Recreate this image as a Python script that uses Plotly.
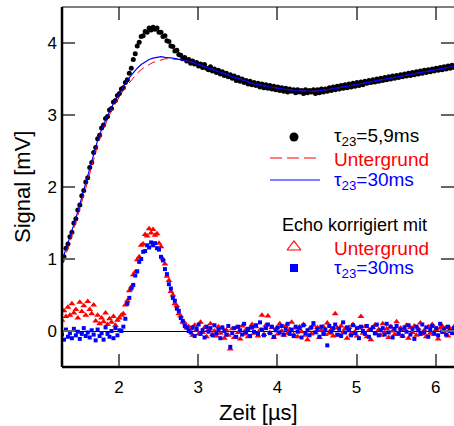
import numpy as np
import plotly.graph_objects as go

# ---------------- data ----------------
T0 = 1.28          # first sample time [µs]
DT_FINE = 0.025    # sampling of the dotted series [µs]
DT_LINE = 0.05     # sampling of the background curves [µs]

signal_59 = [
    0.98, 1.03, 1.15, 1.21, 1.31, 1.37, 1.50, 1.56, 1.68, 1.75,
    1.88, 1.95, 2.07, 2.13, 2.27, 2.34, 2.48, 2.55, 2.67, 2.72,
    2.82, 2.86, 2.95, 2.98, 3.07, 3.09, 3.18, 3.20, 3.27, 3.30,
    3.36, 3.38, 3.45, 3.49, 3.58, 3.65, 3.77, 3.85, 3.96, 4.01,
    4.09, 4.10, 4.16, 4.15, 4.21, 4.18, 4.22, 4.19, 4.21, 4.15,
    4.15, 4.09, 4.10, 4.03, 4.02, 3.96, 3.95, 3.89, 3.90, 3.84,
    3.83, 3.78, 3.80, 3.75, 3.77, 3.72, 3.75, 3.71, 3.73, 3.68,
    3.71, 3.66, 3.70, 3.65, 3.63, 3.67, 3.61, 3.64, 3.59, 3.62,
    3.57, 3.60, 3.55, 3.58, 3.53, 3.56, 3.51, 3.54, 3.48, 3.52,
    3.47, 3.50, 3.45, 3.48, 3.43, 3.47, 3.42, 3.45, 3.41, 3.44,
    3.39, 3.43, 3.38, 3.42, 3.37, 3.41, 3.36, 3.40, 3.35, 3.39,
    3.34, 3.38, 3.33, 3.37, 3.32, 3.36, 3.33, 3.35, 3.31, 3.35,
    3.32, 3.34, 3.30, 3.35, 3.31, 3.34, 3.32, 3.35, 3.30, 3.35,
    3.31, 3.36, 3.32, 3.36, 3.33, 3.38, 3.34, 3.39, 3.35, 3.40,
    3.36, 3.41, 3.37, 3.42, 3.38, 3.43, 3.39, 3.44, 3.40, 3.45,
    3.41, 3.46, 3.42, 3.47, 3.44, 3.48, 3.45, 3.49, 3.46, 3.50,
    3.47, 3.51, 3.48, 3.52, 3.49, 3.53, 3.50, 3.54, 3.51, 3.55,
    3.52, 3.56, 3.53, 3.57, 3.54, 3.58, 3.55, 3.59, 3.56, 3.60,
    3.57, 3.61, 3.58, 3.62, 3.59, 3.63, 3.60, 3.64, 3.61, 3.65,
    3.62, 3.66, 3.63, 3.67, 3.64, 3.68, 3.65, 3.69, 3.66,
]

background_30ms = [
    0.97, 1.13, 1.30, 1.48, 1.66, 1.86, 2.05, 2.25, 2.46, 2.65,
    2.80, 2.93, 3.05, 3.16, 3.26, 3.35, 3.44, 3.52, 3.59, 3.65,
    3.70, 3.74, 3.77, 3.79, 3.80, 3.81, 3.80, 3.80, 3.79, 3.78,
    3.77, 3.76, 3.75, 3.73, 3.71, 3.69, 3.67, 3.65, 3.63, 3.61,
    3.59, 3.57, 3.55, 3.53, 3.51, 3.49, 3.47, 3.455, 3.44, 3.43,
    3.415, 3.405, 3.395, 3.385, 3.375, 3.365, 3.355, 3.35, 3.345, 3.34,
    3.335, 3.33, 3.33, 3.33, 3.33, 3.335, 3.34, 3.35, 3.36, 3.37,
    3.38, 3.39, 3.40, 3.41, 3.42, 3.43, 3.445, 3.455, 3.465, 3.475,
    3.485, 3.495, 3.505, 3.515, 3.525, 3.535, 3.545, 3.555, 3.565, 3.575,
    3.585, 3.595, 3.605, 3.615, 3.625, 3.635, 3.645, 3.655, 3.665, 3.675,
]

background_untergrund = [
    0.92, 1.06, 1.23, 1.41, 1.59, 1.79, 1.98, 2.18, 2.39, 2.58,
    2.74, 2.88, 3.00, 3.11, 3.21, 3.30, 3.38, 3.45, 3.52, 3.58,
    3.63, 3.67, 3.70, 3.73, 3.75, 3.77, 3.78, 3.78, 3.78, 3.775,
    3.77, 3.76, 3.75, 3.73, 3.71, 3.69, 3.67, 3.65, 3.63, 3.61,
    3.59, 3.57, 3.55, 3.53, 3.51, 3.49, 3.47, 3.455, 3.44, 3.43,
    3.415, 3.405, 3.395, 3.385, 3.375, 3.365, 3.355, 3.35, 3.345, 3.34,
    3.335, 3.33, 3.33, 3.33, 3.33, 3.335, 3.34, 3.35, 3.36, 3.37,
    3.38, 3.39, 3.40, 3.41, 3.42, 3.43, 3.445, 3.455, 3.465, 3.475,
    3.485, 3.495, 3.505, 3.515, 3.525, 3.535, 3.545, 3.555, 3.565, 3.575,
    3.585, 3.595, 3.605, 3.615, 3.625, 3.635, 3.645, 3.655, 3.665, 3.675,
]

echo_untergrund = [
    0.15, 0.28, 0.20, 0.33, 0.22, 0.38, 0.25, 0.30, 0.18, 0.40,
    0.27, 0.35, 0.22, 0.41, 0.30, 0.24, 0.36, 0.14, 0.22, 0.10,
    0.18, 0.13, 0.25, 0.09, 0.17, 0.12, 0.20, 0.08, 0.15, 0.18,
    0.22, 0.24, 0.36, 0.42, 0.56, 0.61, 0.78, 0.82, 0.99, 1.03,
    1.19, 1.21, 1.34, 1.32, 1.42, 1.36, 1.41, 1.33, 1.35, 1.22,
    1.17, 1.00, 0.93, 0.76, 0.70, 0.55, 0.50, 0.38, 0.35, 0.24,
    0.21, 0.12, 0.11, 0.04, 0.06,
    0.03, -0.06, 0.08, 0.01, -0.04, 0.12, -0.02, 0.05, -0.08, 0.02,
    0.10, -0.05, 0.00, -0.07, 0.06, -0.03, 0.04, -0.10, 0.01, -0.06,
    -0.25, 0.03, -0.09, 0.05, -0.02, -0.11, 0.07, -0.04, 0.02, -0.08,
    0.04, 0.09, -0.03, 0.06, -0.07, 0.01, 0.22, -0.05, 0.08, 0.21,
    -0.02, 0.05, -0.09, 0.03, -0.04, 0.10, 0.00, -0.06, 0.07, -0.03,
    0.02, 0.12, -0.05, 0.04, -0.08, 0.06, -0.01, 0.09, -0.06, -0.12,
    0.03, -0.04, 0.08, -0.02, 0.05, -0.09, 0.01, 0.06, -0.05, 0.11,
    -0.03, 0.02, -0.07, 0.24, 0.04, -0.06, 0.07, -0.02, 0.03, -0.10,
    0.05, -0.04, 0.09, -0.01, -0.07, 0.04, 0.20, -0.03, 0.06, -0.08,
    0.01, -0.12, 0.05, 0.08, -0.04, 0.02, -0.06, 0.10, -0.02, 0.03,
    -0.09, 0.06, 0.00, -0.05, 0.13, -0.03, 0.04, -0.07, 0.02, 0.08,
    -0.10, 0.05, -0.02, 0.07, -0.06, 0.03, 0.11, -0.04, 0.01, -0.08,
    0.06, -0.03, 0.09, -0.05, 0.02, -0.11, 0.04, 0.07, -0.02, 0.05,
    -0.07, 0.03, 0.00, 0.06,
]

echo_30ms = [
    -0.05, -0.12, 0.02, -0.08, -0.03, -0.10, 0.03, -0.06, -0.01, -0.11,
    -0.04, 0.04, -0.07, -0.02, -0.09, 0.01, -0.05, -0.13, 0.02, -0.07,
    -0.03, -0.12, 0.05, -0.04, -0.08, 0.00, -0.10, 0.04, -0.06, 0.01,
    0.00, 0.06, 0.17, 0.38, 0.46, 0.59, 0.64, 0.77, 0.83, 0.96,
    1.00, 1.10, 1.11, 1.19, 1.16, 1.23, 1.19, 1.22, 1.15, 1.13,
    1.03, 0.98, 0.86, 0.79, 0.65, 0.59, 0.46, 0.42, 0.31, 0.28,
    0.18, 0.14, 0.07, 0.05, 0.00,
    -0.02, 0.05, -0.07, 0.03, 0.09, -0.04, 0.01, -0.09, 0.06, -0.01,
    0.04, -0.06, 0.08, -0.03, 0.02, -0.10, 0.05, 0.00, -0.05, 0.07,
    -0.22, -0.03, 0.04, -0.08, 0.06, 0.01, -0.05, 0.10, -0.02, 0.03,
    -0.07, 0.05, -0.01, 0.08, -0.04, 0.12, 0.02, -0.06, 0.04, 0.09,
    -0.03, 0.06, -0.08, 0.01, 0.05, -0.02, 0.07, -0.05, 0.03, 0.10,
    -0.04, 0.02, -0.07, 0.06, -0.01, 0.04, -0.09, 0.08, -0.03, 0.01,
    -0.06, 0.05, 0.11, -0.02, 0.03, -0.08, 0.06, -0.04, 0.02, -0.20,
    0.07, -0.01, 0.04, 0.09, -0.05, 0.03, -0.07, 0.12, -0.02, 0.05,
    0.01, -0.06, 0.08, -0.03, 0.04, -0.10, 0.06, 0.00, -0.04, 0.07,
    -0.08, 0.02, 0.05, -0.03, 0.09, -0.06, 0.01, 0.04, -0.05, 0.10,
    -0.02, 0.06, -0.09, 0.03, 0.07, -0.04, 0.02, -0.07, 0.05, -0.01,
    0.08, -0.05, 0.03, -0.11, 0.06, 0.01, -0.04, 0.09, -0.02, 0.05,
    -0.08, 0.02, 0.07, -0.03, 0.04, -0.06, 0.10, -0.01, 0.03, -0.05,
    0.06, 0.00, -0.03, 0.04,
]

x_ticks = [2, 3, 4, 5, 6]
y_ticks = [0, 1, 2, 3, 4]
x_range = [1.28, 6.23]
y_range = [-0.5, 4.5]

legend_labels = ["τ<sub>23</sub>=5,9ms", "Untergrund", "τ<sub>23</sub>=30ms",
                 "Echo korrigiert mit", "Untergrund", "τ<sub>23</sub>=30ms"]


def grid(values, step):
    return np.round(T0 + step * np.arange(len(values)), 4)


FONT = "Liberation Sans, Arial, sans-serif"
RED = "#ff0000"
BLUE = "#0000ff"

fig = go.Figure()

# measured signal (black dots)
fig.add_trace(go.Scatter(x=grid(signal_59, DT_FINE), y=signal_59, mode="markers",
                         marker=dict(symbol="circle", size=5, color="black"),
                         showlegend=False))
# background curves
fig.add_trace(go.Scatter(x=grid(background_untergrund, DT_LINE), y=background_untergrund,
                         mode="lines", line=dict(color=RED, width=1, dash="8px,5px"),
                         showlegend=False))
fig.add_trace(go.Scatter(x=grid(background_30ms, DT_LINE), y=background_30ms,
                         mode="lines", line=dict(color=BLUE, width=1.2),
                         showlegend=False))
# corrected echoes
fig.add_trace(go.Scatter(x=grid(echo_untergrund, DT_FINE), y=echo_untergrund, mode="markers",
                         marker=dict(symbol="triangle-up", size=6, color=RED),
                         showlegend=False))
fig.add_trace(go.Scatter(x=grid(echo_30ms, DT_FINE), y=echo_30ms, mode="markers",
                         marker=dict(symbol="square", size=4, color=BLUE),
                         showlegend=False))

# ---- hand-made legend on an overlay axis measured in pixels ----
PX_L, PX_R, PX_T, PX_B = 62, 454, 7, 367
fig.add_trace(go.Scatter(x=[294], y=[137], mode="markers", xaxis="x2", yaxis="y2",
                         marker=dict(symbol="circle", size=9, color="black"),
                         showlegend=False, hoverinfo="skip"))
fig.add_trace(go.Scatter(x=[270, 320], y=[158, 158], mode="lines", xaxis="x2", yaxis="y2",
                         line=dict(color=RED, width=1, dash="12px,5px"),
                         showlegend=False, hoverinfo="skip"))
fig.add_trace(go.Scatter(x=[270, 320], y=[180, 180], mode="lines", xaxis="x2", yaxis="y2",
                         line=dict(color=BLUE, width=1),
                         showlegend=False, hoverinfo="skip"))
fig.add_trace(go.Scatter(x=[294], y=[247], mode="markers", xaxis="x2", yaxis="y2",
                         marker=dict(symbol="triangle-up-open", size=12, color=RED,
                                     line=dict(width=1.2, color=RED)),
                         showlegend=False, hoverinfo="skip"))
fig.add_trace(go.Scatter(x=[294], y=[268], mode="markers", xaxis="x2", yaxis="y2",
                         marker=dict(symbol="square", size=8, color=BLUE),
                         showlegend=False, hoverinfo="skip"))

legend_pos = [(332, 137, "black", 19), (332, 159, RED, 19), (332, 181, BLUE, 19),
              (280, 225, "black", 18), (332, 248, RED, 19), (332, 269, BLUE, 19)]
annotations = []
for (lx, ly, col, fs), txt in zip(legend_pos, legend_labels):
    annotations.append(dict(x=lx, y=ly, xref="x2", yref="y2", text=txt, showarrow=False,
                            xanchor="left", yanchor="middle",
                            font=dict(family=FONT, size=fs, color=col)))
# axis titles
annotations.append(dict(x=0.5, y=-0.125, xref="paper", yref="paper", text="Zeit [µs]",
                        showarrow=False, xanchor="center", yanchor="middle",
                        font=dict(family=FONT, size=22, color="black")))
annotations.append(dict(x=-0.102, y=0.5, xref="paper", yref="paper", text="Signal [mV]",
                        showarrow=False, xanchor="center", yanchor="middle", textangle=-90,
                        font=dict(family=FONT, size=22, color="black")))

axis_common = dict(ticks="inside", ticklen=13, tickwidth=1.5, tickcolor="#666666",
                   showgrid=False, showline=False, mirror="ticks",
                   tickfont=dict(family=FONT, size=17, color="black"))

fig.update_layout(
    width=454, height=426,
    margin=dict(l=PX_L, r=454 - PX_R, t=PX_T, b=426 - PX_B),
    paper_bgcolor="white", plot_bgcolor="white",
    showlegend=False,
    xaxis=dict(range=x_range, tickvals=x_ticks, zeroline=False, ticklabelstandoff=8,
               **axis_common),
    yaxis=dict(range=y_range, tickvals=y_ticks, zeroline=True, zerolinecolor="black",
               zerolinewidth=1, ticklabelstandoff=4, **axis_common),
    xaxis2=dict(range=[PX_L, PX_R], overlaying="x", visible=False),
    yaxis2=dict(range=[PX_B, PX_T], overlaying="y", visible=False),
    annotations=annotations,
    shapes=[
        dict(type="line", xref="paper", yref="paper", x0=0, x1=0, y0=0, y1=1,
             line=dict(color="black", width=2.5)),
        dict(type="line", xref="paper", yref="paper", x0=0, x1=1, y0=0, y1=0,
             line=dict(color="black", width=2.5)),
        dict(type="line", xref="paper", yref="paper", x0=0, x1=1, y0=1, y1=1,
             line=dict(color="black", width=1)),
    ],
)

fig.write_html("out.html")
